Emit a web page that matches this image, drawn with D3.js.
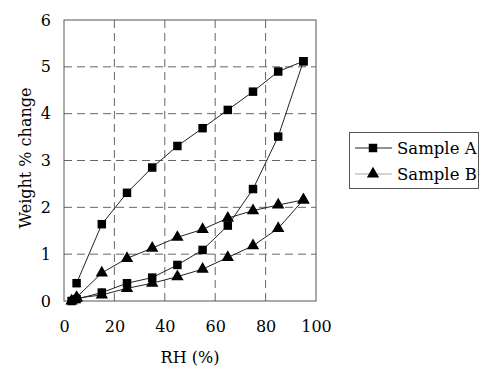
<!DOCTYPE html>
<html>
<head>
<meta charset="utf-8">
<script src="https://cdn.jsdelivr.net/npm/d3@7"></script>
<style>
  body { margin: 0; background: #fff; }
  text { font-family: "DejaVu Serif", serif; fill: #000; }
</style>
</head>
<body>
<script>
// RH steps and weight changes
var rhUp = [3, 5, 15, 25, 35, 45, 55, 65, 75, 85, 95];
var rhDown = [95, 85, 75, 65, 55, 45, 35, 25, 15, 5];
var aUp = [0, 0.04, 0.18, 0.38, 0.5, 0.77, 1.09, 1.61, 2.39, 3.51, 5.12];
var aDown = [5.12, 4.9, 4.47, 4.08, 3.69, 3.31, 2.85, 2.31, 1.64, 0.38];
var bUp = [0, 0.06, 0.13, 0.27, 0.38, 0.52, 0.68, 0.93, 1.18, 1.55, 2.16];
var bDown = [2.16, 2.05, 1.93, 1.77, 1.53, 1.36, 1.13, 0.91, 0.6, 0.08];
var xTicks = [0, 20, 40, 60, 80, 100];
var yTicks = [0, 1, 2, 3, 4, 5, 6];
var seriesNames = ["Sample A", "Sample B"];

var w = 480, h = 368;
var plotL = 64, plotR = 316, plotT = 20, plotB = 301;

var svg = d3.select("body").append("svg")
    .attr("width", w)
    .attr("height", h);

var x = d3.scaleLinear().domain([0, 100]).range([plotL, plotR]);
var y = d3.scaleLinear().domain([0, 6]).range([plotB, plotT]);

// grid
svg.append("g").selectAll("line")
    .data(xTicks.slice(1, -1))
    .enter().append("line")
    .attr("x1", function(d){ return x(d); })
    .attr("x2", function(d){ return x(d); })
    .attr("y1", plotT).attr("y2", plotB)
    .attr("stroke", "#666").attr("stroke-dasharray", "8,5");

svg.append("g").selectAll("line")
    .data(yTicks.slice(1, -1))
    .enter().append("line")
    .attr("y1", function(d){ return y(d); })
    .attr("y2", function(d){ return y(d); })
    .attr("x1", plotL).attr("x2", plotR)
    .attr("stroke", "#666").attr("stroke-dasharray", "8,5");

svg.append("rect")
    .attr("x", plotL).attr("y", plotT)
    .attr("width", plotR - plotL).attr("height", plotB - plotT)
    .attr("fill", "none").attr("stroke", "#555");

// axes (labels only)
svg.append("g")
    .attr("transform", "translate(0," + plotB + ")")
    .call(d3.axisBottom(x).tickValues(xTicks).tickSize(0).tickPadding(20));
svg.append("g")
    .attr("transform", "translate(" + plotL + ",0)")
    .call(d3.axisLeft(y).tickValues(yTicks).tickFormat(d3.format("d")).tickSize(0).tickPadding(13));
svg.selectAll(".domain").remove();
svg.selectAll(".tick text")
    .attr("font-family", "DejaVu Serif")
    .attr("font-size", 16)
    .attr("fill", "#000");

svg.append("text")
    .attr("x", (plotL + plotR) / 2).attr("y", 363)
    .attr("text-anchor", "middle")
    .attr("font-size", 16)
    .text("RH (%)");

svg.append("text")
    .attr("transform", "translate(31,158) rotate(-90)")
    .attr("text-anchor", "middle")
    .attr("font-size", 16)
    .text("Weight % change");

// series
var line = d3.line()
    .x(function(d){ return x(d[0]); })
    .y(function(d){ return y(d[1]); });

var seriesA = d3.zip(rhUp, aUp).concat(d3.zip(rhDown, aDown));
var seriesB = d3.zip(rhUp, bUp).concat(d3.zip(rhDown, bDown));

var sq = d3.symbol().type(d3.symbolSquare).size(72);
var tri = d3.symbol().type(d3.symbolTriangle).size(66);

function drawSeries(data, sym){
    svg.append("path")
        .attr("d", line(data))
        .attr("fill", "none")
        .attr("stroke", "#222")
        .attr("stroke-width", 1);
    svg.append("g").selectAll("path")
        .data(data)
        .enter().append("path")
        .attr("d", sym)
        .attr("transform", function(d){ return "translate(" + x(d[0]) + "," + y(d[1]) + ")"; })
        .attr("fill", "#000");
}
drawSeries(seriesB, tri);
drawSeries(seriesA, sq);

// legend
var legend = svg.append("g");
legend.append("rect")
    .attr("x", 349.5).attr("y", 132.5)
    .attr("width", 129).attr("height", 56)
    .attr("fill", "#fff").attr("stroke", "#555");

var items = legend.selectAll(".item")
    .data(seriesNames)
    .enter().append("g")
    .attr("class", "item")
    .attr("transform", function(d, i){ return "translate(0," + (148 + i * 26) + ")"; });

items.append("line")
    .attr("x1", 355).attr("x2", 392)
    .attr("stroke", function(d, i){ return i === 0 ? "#222" : "#aaa"; })
    .attr("stroke-width", 1.2);
items.append("path")
    .attr("d", function(d, i){ return i === 0 ? sq() : tri(); })
    .attr("transform", "translate(373,0)")
    .attr("fill", "#000");
items.append("text")
    .attr("x", 397).attr("dy", "0.35em")
    .attr("font-size", 16.5)
    .text(function(d){ return d; });
</script>
</body>
</html>
